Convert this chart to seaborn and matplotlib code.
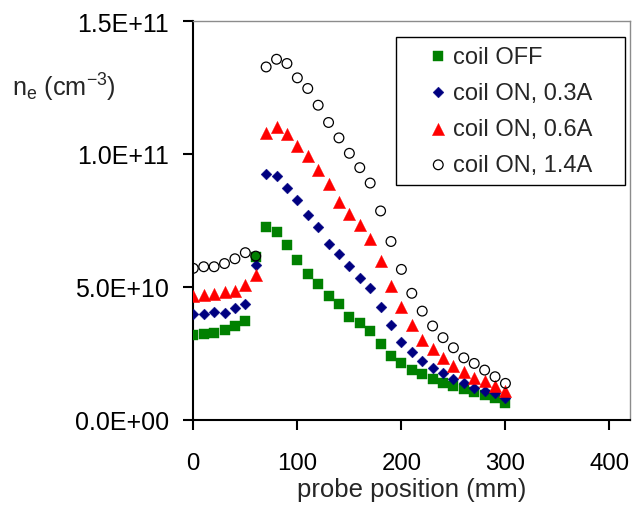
import numpy as np
import pandas as pd
import matplotlib
matplotlib.use("Agg")
import matplotlib.pyplot as plt
import seaborn as sns

# Probe positions (mm)
position = [0, 10, 20, 30, 40, 50, 60, 70, 80, 90, 100, 110, 120, 130, 140, 150,
            160, 170, 180, 190, 200, 210, 220, 230, 240, 250, 260, 270, 280, 290, 300]

# Electron density, in units of 1e10 cm^-3
coil_off = [3.17, 3.20, 3.27, 3.37, 3.52, 3.72, 6.13, 7.26, 7.07, 6.58, 6.02, 5.49, 5.09,
            4.65, 4.33, 3.87, 3.62, 3.33, 2.85, 2.39, 2.14, 1.86, 1.70, 1.53, 1.38, 1.26,
            1.13, 1.03, 0.94, 0.82, 0.63]
coil_03a = [3.96, 3.98, 4.06, 4.02, 4.21, 4.33, 5.80, 9.23, 9.17, 8.73, 8.25, 7.70, 7.25,
            6.62, 6.22, 5.78, 5.34, 4.96, 4.23, 3.54, 2.91, 2.55, 2.20, 1.95, 1.76, 1.51,
            1.36, 1.19, 1.07, 1.01, 0.82]
coil_06a = [4.65, 4.68, 4.74, 4.80, 4.84, 5.05, 5.44, 10.80, 11.01, 10.76, 10.30, 9.92, 9.39,
            8.85, 8.19, 7.72, 7.31, 6.78, 5.97, 5.02, 4.23, 3.54, 2.99, 2.64, 2.32, 2.03,
            1.78, 1.57, 1.44, 1.26, 1.07]
coil_14a = [5.69, 5.75, 5.75, 5.87, 6.05, 6.28, 6.15, 13.27, 13.56, 13.40, 12.86, 12.46, 11.83,
            11.18, 10.60, 10.02, 9.48, 8.90, 7.85, 6.70, 5.65, 4.75, 4.08, 3.52, 3.08, 2.70,
            2.32, 2.11, 1.86, 1.61, 1.36]
unit = 1e10

labels = ["coil OFF", "coil ON, 0.3A", "coil ON, 0.6A", "coil ON, 1.4A"]
x_ticks = [0, 100, 200, 300, 400]
y_ticks = [0, 5e10, 1e11, 1.5e11]
y_tick_labels = ["0.0E+00", "5.0E+10", "1.0E+11", "1.5E+11"]

sns.set_style("ticks")
plt.rcParams["font.family"] = ["Liberation Sans", "DejaVu Sans"]
plt.rcParams["mathtext.fontset"] = "custom"
plt.rcParams["mathtext.rm"] = "Liberation Sans"
plt.rcParams["mathtext.it"] = "Liberation Sans:italic"
plt.rcParams["mathtext.bf"] = "Liberation Sans:bold"

W, H = 633, 510
fig = plt.figure(figsize=(W / 100, H / 100), dpi=100)
x0, x1, y_top, y_bot = 193.3, 630.3, 22.0, 420.5
ax = fig.add_axes([x0 / W, 1 - y_bot / H, (x1 - x0) / W, (y_bot - y_top) / H])

styles = [
    dict(marker="s", s=7.8 ** 2, color="#008000", edgecolor="#008000", linewidth=0.3),
    dict(marker="D", s=5.5 ** 2, color="#000080", edgecolor="#000080", linewidth=0.3),
    dict(marker="^", s=8.8 ** 2, color="#FF0000", edgecolor="#FF0000", linewidth=0.3),
    dict(marker="o", s=7.0 ** 2, facecolor="none", edgecolor="black", linewidth=0.9),
]
series = [coil_off, coil_03a, coil_06a, coil_14a]

for lab, vals, st in zip(labels, series, styles):
    df = pd.DataFrame({"position": position, "ne": np.array(vals) * unit})
    sns.scatterplot(data=df, x="position", y="ne", label=lab, ax=ax, legend=False,
                    zorder=3, **st)

ax.set_xlim(0, 420)
ax.set_ylim(0, 1.5e11)
ax.set_xticks(x_ticks)
ax.set_yticks(y_ticks)
ax.set_yticklabels(y_tick_labels)

ax.tick_params(axis="both", direction="out", length=7.2, width=1.5, color="black",
               labelcolor="black")
ax.tick_params(axis="x", pad=16.5, labelsize=17.3)
ax.tick_params(axis="y", pad=10.5, labelsize=18)

for side in ["left", "bottom"]:
    ax.spines[side].set_color("black")
    ax.spines[side].set_linewidth(1.5)
for side in ["top", "right"]:
    ax.spines[side].set_visible(True)
    ax.spines[side].set_color("#8c8c8c")
    ax.spines[side].set_linewidth(1.0)

ax.set_xlabel("probe position (mm)", fontsize=18.5)
ax.xaxis.set_label_coords(0.5, -(490 - y_bot) / (y_bot - y_top))
ax.xaxis.label.set_va("center")
ax.set_ylabel("")

fig.text(12 / W, 1 - 97 / H, r"n$_{\rm e}$ (cm$^{-3}$)", fontsize=18.2,
         ha="left", va="baseline")

leg = ax.legend(loc="upper left", bbox_to_anchor=(396 / W, 1 - 183 / H, 229 / W, 145 / H),
                bbox_transform=fig.transFigure, mode="expand", borderaxespad=0,
                prop={"size": 17}, frameon=True, fancybox=False, framealpha=1,
                edgecolor="black", borderpad=0.36, labelspacing=0.6,
                handlelength=2.86, handletextpad=-0.79, markerscale=1.0, scatterpoints=1)
leg.get_frame().set_linewidth(1.0)

fig.savefig("out.png", dpi=100, facecolor="white")
